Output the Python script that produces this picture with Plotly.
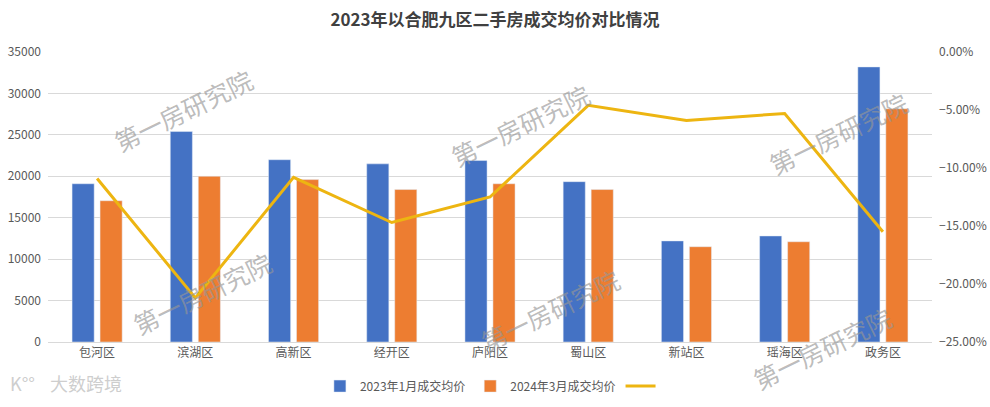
import plotly.graph_objects as go

categories = ["包河区", "滨湖区", "高新区", "经开区", "庐阳区", "蜀山区", "新站区", "瑶海区", "政务区"]
price_2023_jan = [19100, 25400, 22000, 21500, 21900, 19350, 12200, 12800, 33200]
price_2024_mar = [17050, 20000, 19600, 18400, 19100, 18400, 11500, 12100, 28150]
change_pct = [-0.109, -0.212, -0.108, -0.147, -0.125, -0.046, -0.059, -0.053, -0.155]

left_ticks = [0, 5000, 10000, 15000, 20000, 25000, 30000, 35000]
right_ticks = [0, -0.05, -0.10, -0.15, -0.20, -0.25]

FONT = "Noto Sans CJK SC"
TICK_COLOR = "#595959"

fig = go.Figure()
fig.add_trace(go.Bar(x=categories, y=price_2023_jan, name="2023年1月成交均价",
                     marker_color="#4472C4"))
fig.add_trace(go.Bar(x=categories, y=price_2024_mar, name="2024年3月成交均价",
                     marker_color="#ED7D31"))
fig.add_trace(go.Scatter(x=categories, y=change_pct, name=" ", yaxis="y2",
                         mode="lines", line=dict(color="#EDB511", width=3)))

# watermarks
wm = [(183, 110), (520, 125), (838, 133), (202, 293), (550, 310), (822, 348)]
annotations = []
for (px, py) in wm:
    annotations.append(dict(text="第一房研究院", x=px / 990, y=1 - py / 407,
                            xref="paper", yref="paper", showarrow=False,
                            textangle=-26, font=dict(family=FONT, size=25, color="rgba(150,150,150,0.65)"),
                            xanchor="center", yanchor="middle"))
annotations.append(dict(text="大数跨境", x=48 / 990, y=1 - 383 / 407, xref="paper", yref="paper",
                        showarrow=False, font=dict(family=FONT, size=18, color="rgba(200,200,200,0.9)"),
                        xanchor="left", yanchor="middle"))
annotations.append(dict(text="K°°", x=8 / 990, y=1 - 383 / 407, xref="paper", yref="paper",
                        showarrow=False, font=dict(family=FONT, size=18, color="rgba(200,200,200,0.9)"),
                        xanchor="left", yanchor="middle"))
# convert pixel-based coords to plot-area paper coords
L, R, T, B = 48, 58, 52, 65
W, H = 990 - L - R, 407 - T - B
for a in annotations:
    pxx = a["x"] * 990
    pyy = (1 - a["y"]) * 407
    a["x"] = (pxx - L) / W
    a["y"] = 1 - (pyy - T) / H

fig.update_layout(
    width=990, height=407,
    margin=dict(l=L, r=R, t=T, b=B, autoexpand=False),
    paper_bgcolor="white", plot_bgcolor="white",
    font=dict(family=FONT, size=12, color=TICK_COLOR),
    title=dict(text="<b>2023年以合肥九区二手房成交均价对比情况</b>", x=0.5, xanchor="center",
               y=1 - 20 / 407, yanchor="middle",
               font=dict(family=FONT, size=17, color="#404040")),
    barmode="group", bargap=0.43, bargroupgap=0.21,
    xaxis=dict(showgrid=False, showline=True, linecolor="#D9D9D9", linewidth=1,
               ticks="", tickfont=dict(size=12, color=TICK_COLOR), automargin=False),
    yaxis=dict(range=[0, 35000], tickvals=left_ticks, tickformat="d", showgrid=True,
               gridcolor="#D9D9D9", zeroline=False, automargin=False, ticklabelstandoff=6,
               tickfont=dict(size=12, color=TICK_COLOR)),
    yaxis2=dict(range=[-0.25, 0], tickvals=right_ticks, tickformat=".2%", overlaying="y",
                side="right", showgrid=False, zeroline=False, automargin=False,
                ticklabelstandoff=6, tickfont=dict(size=12, color=TICK_COLOR)),
    legend=dict(orientation="h", x=0.505, xanchor="center", y=-0.152, yanchor="middle",
                font=dict(size=12, color=TICK_COLOR), traceorder="normal", itemwidth=30),
    annotations=annotations,
)

fig.write_html("out.html", config={"displayModeBar": False},
               post_script="document.body.style.margin='0';document.body.style.padding='0';")
